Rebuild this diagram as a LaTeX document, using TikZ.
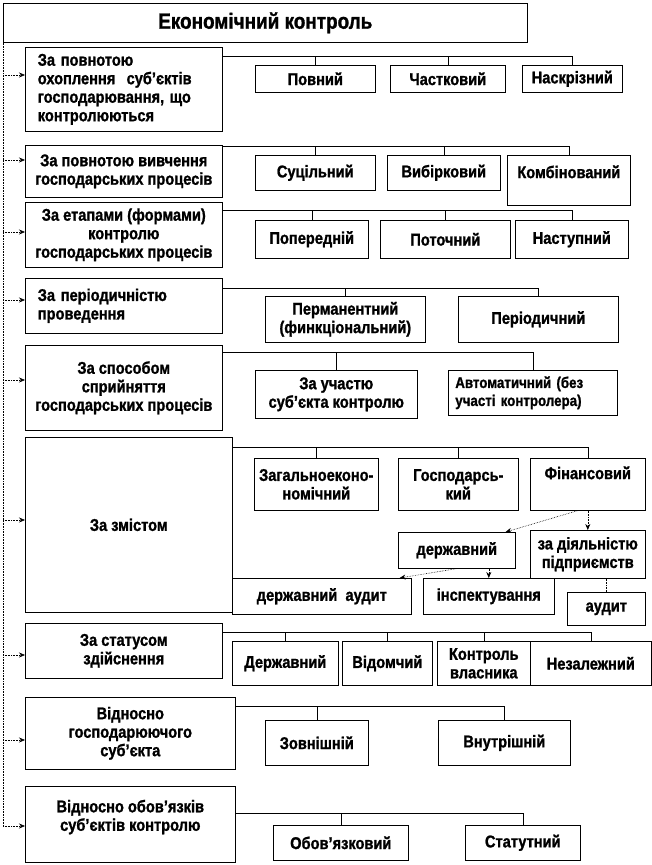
\documentclass[tikz,border=0pt]{standalone}
\usepackage{fontspec}
\setmainfont{Liberation Sans}[FakeStretch=0.86, BoldFeatures={FakeBold=1.2}]
\usetikzlibrary{arrows.meta}

\tikzset{
  box/.style={draw, line width=0.6pt, anchor=north west, align=center, inner sep=2pt,
    font=\bfseries\fontsize{17}{18.5}\selectfont},
  wh/.style 2 args={minimum width=#1pt, minimum height=#2pt},
  titlebox/.style={box, font=\bfseries\fontsize{22}{24}\selectfont},
  bus/.style={line width=0.6pt},
  spine/.style={line width=0.6pt, densely dotted},
  feed/.style={line width=0.6pt, densely dotted, -{Stealth[length=6pt,width=5pt]}},
  link/.style={line width=0.6pt, densely dotted, -{Stealth[length=6pt,width=5pt]}},
}

\begin{document}
\begin{tikzpicture}[x=1pt, y=-1pt]
    \useasboundingbox (0,0) rectangle (652,865);

    % title
    \node[titlebox, wh={524}{39}] (top) at (3,3) {Економічний контроль};

    % left column
    \node[box, wh={197}{84}, align=left, text width=172pt] (c1) at (25,47)
        {За повнотою\\охоплення\ \ суб’єктів\\господарювання, що\\контролюються};
    \node[box, wh={197}{52}] (c2) at (25,145) {За повнотою вивчення\\господарських процесів};
    \node[box, wh={197}{65}] (c3) at (25,202) {За етапами (формами)\\контролю\\господарських процесів};
    \node[box, wh={197}{55}, align=left, text width=172pt] (c4) at (25,278) {За періодичністю\\проведення};
    \node[box, wh={197}{85}] (c5) at (25,345) {За способом\\сприйняття\\господарських процесів};
    \node[box, wh={207}{175}] (c6) at (25,437) {За змістом};
    \node[box, wh={197}{55}] (c7) at (25,623) {За статусом\\здійснення};
    \node[box, wh={210}{72}] (c8) at (25,697) {Відносно\\господарюючого\\суб’єкта};
    \node[box, wh={210}{76}, text depth=18pt] (c9) at (25,786) {Відносно обов’язків\\суб’єктів контролю};

    % spine and feeds
    \foreach \i/\y in {1/75,2/160,3/232,4/300,5/380,6/520,7/655,8/740,9/826} {
        \coordinate (a\i) at (3,\y);
        \draw[feed] (a\i) -- (a\i -| c\i.west);
    }
    \draw[spine] (top.south west) -- (a9);

    % kinds
    \node[box, wh={120}{27}] (k1a) at (255,65) {Повний};
    \node[box, wh={115}{27}] (k1b) at (390,65) {Частковий};
    \node[box, wh={100}{27}] (k1c) at (522,65) {Наскрізний};

    \node[box, wh={120}{35}] (k2a) at (255,155) {Суцільний};
    \node[box, wh={113}{35}] (k2b) at (387,155) {Вибірковий};
    \node[box, wh={123}{50}, text depth=17pt] (k2c) at (507,155) {Комбінований};

    \node[box, wh={113}{38}] (k3a) at (255,220) {Попередній};
    \node[box, wh={130}{38}] (k3b) at (380,220) {Поточний};
    \node[box, wh={113}{38}] (k3c) at (515,220) {Наступний};

    \node[box, wh={160}{46}] (k4a) at (265,296) {Перманентний\\(финкціональний)};
    \node[box, wh={160}{46}] (k4b) at (458,296) {Періодичний};

    \node[box, wh={162}{48}] (k5a) at (255,370) {За участю\\суб’єкта контролю};
    \node[box, wh={169}{45}, align=left, text width=155pt, font=\bfseries\fontsize{15.5}{18}\selectfont] (k5b) at (448,370)
        {Автоматичний (без\\участі контролера)};

    \node[box, wh={124}{52}] (k6a) at (254,458) {Загальноеконо-\\номічний};
    \node[box, wh={120}{52}] (k6b) at (398,458) {Господарсь-\\кий};
    \node[box, wh={115}{52}, text depth=23pt] (k6c) at (530,458) {Фінансовий};
    \node[box, wh={117}{36}] (d1) at (398,532) {державний};
    \node[box, wh={115}{48}] (d2) at (530,530) {за діяльністю\\підприємств};
    \node[box, wh={179}{36}] (d3) at (232,578) {державний\ \ аудит};
    \node[box, wh={131}{36}] (d4) at (423,578) {інспектування};
    \node[box, wh={78}{33}] (d5) at (567,592) {аудит};

    \node[box, wh={106}{44}] (k7a) at (232,641) {Державний};
    \node[box, wh={90}{44}] (k7b) at (342,641) {Відомчий};
    \node[box, wh={93}{44}] (k7c) at (437,641) {Контроль\\власника};
    \node[box, wh={121}{44}] (k7d) at (530,641) {Незалежний};

    \node[box, wh={103}{45}] (k8a) at (265,720) {Зовнішній};
    \node[box, wh={132}{45}] (k8b) at (438,720) {Внутрішній};

    \node[box, wh={135}{35}] (k9a) at (273,825) {Обов’язковий};
    \node[box, wh={115}{35}] (k9b) at (465,825) {Статутний};

    % buses from each group to its kinds
    \coordinate (b1) at (222,56);
    \draw[bus] (b1) -- (b1 -| k1c.north);
    \foreach \k in {k1a,k1b,k1c} \draw[bus] (b1 -| \k.north) -- (\k.north);
    \coordinate (b2) at (222,146);
    \draw[bus] (b2) -- (b2 -| k2c.north);
    \foreach \k in {k2a,k2b,k2c} \draw[bus] (b2 -| \k.north) -- (\k.north);
    \coordinate (b3) at (222,210);
    \draw[bus] (b3) -- (b3 -| k3c.north);
    \foreach \k in {k3a,k3b,k3c} \draw[bus] (b3 -| \k.north) -- (\k.north);
    \coordinate (b4) at (222,288);
    \draw[bus] (b4) -- (b4 -| k4b.north);
    \foreach \k in {k4a,k4b} \draw[bus] (b4 -| \k.north) -- (\k.north);
    \coordinate (b5) at (222,352);
    \draw[bus] (b5) -- (b5 -| k5b.north);
    \foreach \k in {k5a,k5b} \draw[bus] (b5 -| \k.north) -- (\k.north);
    \coordinate (b6) at (232,447);
    \draw[bus] (b6) -- (b6 -| k6c.north);
    \foreach \k in {k6a,k6b,k6c} \draw[bus] (b6 -| \k.north) -- (\k.north);
    \coordinate (b7) at (222,632);
    \draw[bus] (b7) -- (b7 -| k7d.north);
    \foreach \k in {k7a,k7b,k7c,k7d} \draw[bus] (b7 -| \k.north) -- (\k.north);
    \coordinate (b8) at (235,706);
    \draw[bus] (b8) -- (b8 -| k8b.north);
    \foreach \k in {k8a,k8b} \draw[bus] (b8 -| \k.north) -- (\k.north);
    \coordinate (b9) at (235,813);
    \draw[bus] (b9) -- (b9 -| k9b.north);
    \foreach \k in {k9a,k9b} \draw[bus] (b9 -| \k.north) -- (\k.north);

    % financial control branches
    \draw[link] ([xshift=-10pt]k6c.south) -- ([xshift=-10pt]d1.north east);
    \draw[link] (k6c.south) -- (d2.north);
    \draw[link] (d1.south) -- ([xshift=-12pt]d3.north east);
    \draw[link] (d1.south -| d4.north) -- (d4.north);
    \draw[spine] (d2.south -| d5.north) -- (d5.north);
\end{tikzpicture}
\end{document}
